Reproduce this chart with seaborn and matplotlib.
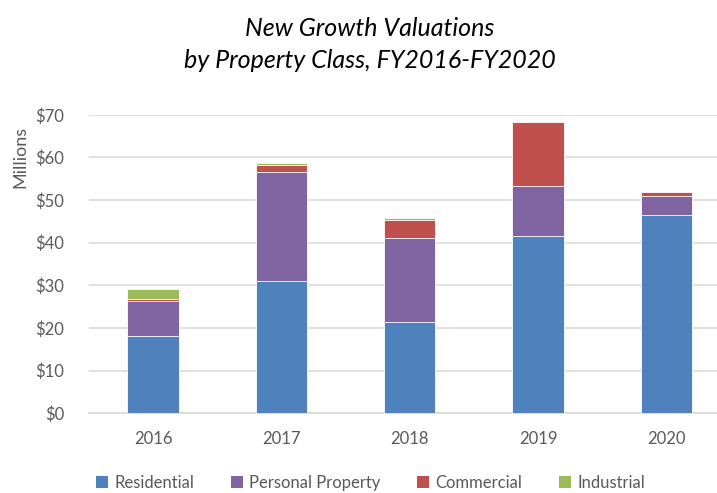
import matplotlib
matplotlib.use("Agg")
import matplotlib.pyplot as plt
import seaborn as sns
import numpy as np
import pandas as pd
from matplotlib.patches import Patch

years = ["2016", "2017", "2018", "2019", "2020"]
residential = [18.1, 31.1, 21.5, 41.5, 46.4]
personal_property = [8.1, 25.4, 19.7, 11.9, 4.6]
commercial = [0.6, 1.8, 4.2, 15.0, 0.9]
industrial = [2.4, 0.5, 0.3, 0.0, 0.0]

series_names = ["Residential", "Personal Property", "Commercial", "Industrial"]
series_vals = [residential, personal_property, commercial, industrial]
colors = ["#4F81BD", "#8064A2", "#C0504D", "#9BBB59"]

sns.set_theme(style="white")
plt.rcParams['font.family'] = ['Lato', 'DejaVu Sans']

fig = plt.figure(figsize=(7.17, 4.93), dpi=100)
ax = fig.add_axes([0.124, 0.162, 0.895, 0.605])

cum = np.cumsum(np.array(series_vals), axis=0)
for i in range(len(series_names) - 1, -1, -1):
    df = pd.DataFrame({"year": years, "value": cum[i]})
    sns.barplot(data=df, x="year", y="value", color=colors[i], width=0.4,
                saturation=1, edgecolor="white", linewidth=0.6, ax=ax, zorder=3)

ax.set_xlim(-0.5, 4.5)
ax.set_ylim(0, 70)
ax.set_yticks(range(0, 71, 10))
ax.set_yticklabels([f"${v}" for v in range(0, 71, 10)])
ax.yaxis.grid(True, color="#D9D9D9", linewidth=1.2, zorder=0)
ax.set_axisbelow(True)
for s in ["top", "right", "left"]:
    ax.spines[s].set_visible(False)
ax.spines["bottom"].set_color("#D9D9D9")
ax.spines["bottom"].set_linewidth(1.2)
ax.tick_params(axis="both", length=0, colors="#595959", labelsize=12)
ax.tick_params(axis="y", pad=18)
ax.tick_params(axis="x", pad=13)
ax.set_xlabel("")
ax.set_ylabel("Millions", color="#595959", fontsize=13, labelpad=4)
ax.yaxis.set_label_coords(-0.095, 0.86)

fig.suptitle("New Growth Valuations\nby Property Class, FY2016-FY2020",
             fontsize=18, style="italic", color="black", x=0.516, y=0.966,
             linespacing=1.5)

handles = [Patch(facecolor=c, edgecolor="none") for c in colors]
fig.legend(handles, series_names, loc="center", ncol=4, frameon=False,
           bbox_to_anchor=(0.517, 0.02), fontsize=12, handlelength=0.7, handleheight=0.7,
           handletextpad=0.4, columnspacing=2.2, labelcolor="#595959")

fig.savefig("out.png", dpi=100)
